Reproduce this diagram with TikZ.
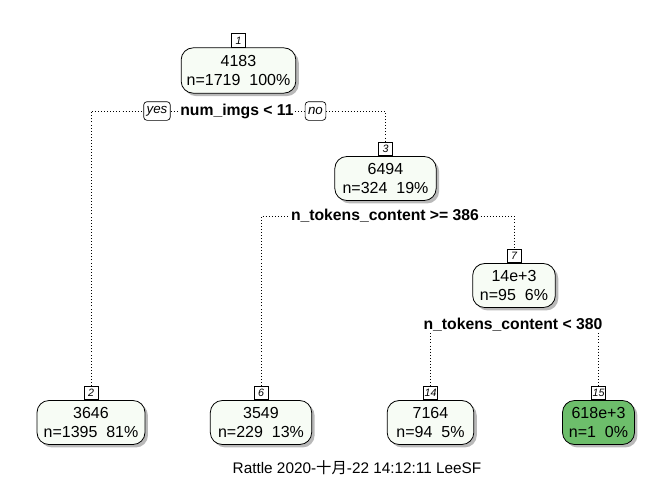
\documentclass[tikz,border=0pt]{standalone}
\usepackage{fontspec}
\setmainfont{Liberation Sans}
\newfontfamily\cjk{Noto Sans CJK SC}
\usetikzlibrary{shadows}
\definecolor{palegreen}{HTML}{F7FCF5}
\definecolor{leafgreen}{HTML}{6DBE6B}
\tikzset{
  box/.style={draw, rounded corners=9pt, fill=palegreen, align=center,
    font=\fontsize{12}{14.5}\selectfont, inner sep=0pt, line width=0.6pt,
    drop shadow={shadow xshift=2.2pt, shadow yshift=-2.2pt, fill=black!50, opacity=0.55}},
  numlab/.style={draw, fill=white, font=\fontsize{8}{8}\selectfont\itshape, inner sep=0.8pt,
    minimum width=10.5pt, minimum height=10pt, anchor=south, line width=0.5pt},
  splitlab/.style={font=\fontsize{11.8}{13}\selectfont\bfseries, inner sep=1pt},
  yn/.style={draw, rounded corners=2.5pt, fill=white, font=\fontsize{10}{11}\selectfont\itshape,
    inner sep=2.2pt, minimum height=14pt, line width=0.5pt},
  conn/.style={line width=0.7pt, dash pattern=on 0.7pt off 1.6pt}
}
\begin{document}
\begin{tikzpicture}[x=0.75pt,y=-0.75pt]
\useasboundingbox (0,0) rectangle (672,480);
% nodes
\node[box, minimum width=86pt, minimum height=34pt] (n1) at (238.5,70.5) {4183\\n=1719\ \ 100\%};
\node[numlab] (l1) at (n1.north) {1};
\node[box, minimum width=76pt, minimum height=33pt] (n3) at (385.5,178.5) {6494\\n=324\ \ 19\%};
\node[numlab] (l3) at (n3.north) {3};
\node[box, minimum width=62pt, minimum height=33pt] (n7) at (514,285.5) {14e+3\\n=95\ \ 6\%};
\node[numlab] (l7) at (n7.north) {7};
\node[box, minimum width=81pt, minimum height=33pt] (n2) at (91,422.5) {3646\\n=1395\ \ 81\%};
\node[numlab] (l2) at (n2.north) {2};
\node[box, minimum width=76pt, minimum height=33pt] (n6) at (261,422.5) {3549\\n=229\ \ 13\%};
\node[numlab] (l6) at (n6.north) {6};
\node[box, minimum width=65pt, minimum height=33pt] (n14) at (430.5,422.5) {7164\\n=94\ \ 5\%};
\node[numlab] (l14) at (n14.north) {14};
\node[box, fill=leafgreen, minimum width=54pt, minimum height=33pt] (n15) at (598.5,422.5) {618e+3\\n=1\ \ 0\%};
\node[numlab] (l15) at (n15.north) {15};
% split labels
\node[splitlab] (s1) at (237,111) {num\_imgs < 11};
\node[yn] (yes) at (157,111) {yes};
\node[yn] (no) at (315.5,111) {no};
\node[splitlab] (s3) at (385,216) {n\_tokens\_content >= 386};
\node[splitlab] (s7) at (513,325) {n\_tokens\_content < 380};
% connectors
\draw[conn] (l2.north) |- (yes.west);
\draw[conn] (yes.east) -- (s1.west);
\draw[conn] (s1.east) -- (no.west);
\draw[conn] (no.east) -| (l3.north);
\draw[conn] (l6.north) |- (s3.west);
\draw[conn] (s3.east) -| (l7.north);
\coordinate (c14) at (l14.north |- s7.south);
\coordinate (c15) at (l15.north |- s7.south);
\draw[conn] (c14) -- (l14.north);
\draw[conn] (c15) -- (l15.north);
% footer
\node[font=\fontsize{11.5}{13}\selectfont, inner sep=0pt] (foot) at (357,468) {Rattle 2020-{\cjk 十月}-22 14:12:11 LeeSF};
\end{tikzpicture}
\end{document}
